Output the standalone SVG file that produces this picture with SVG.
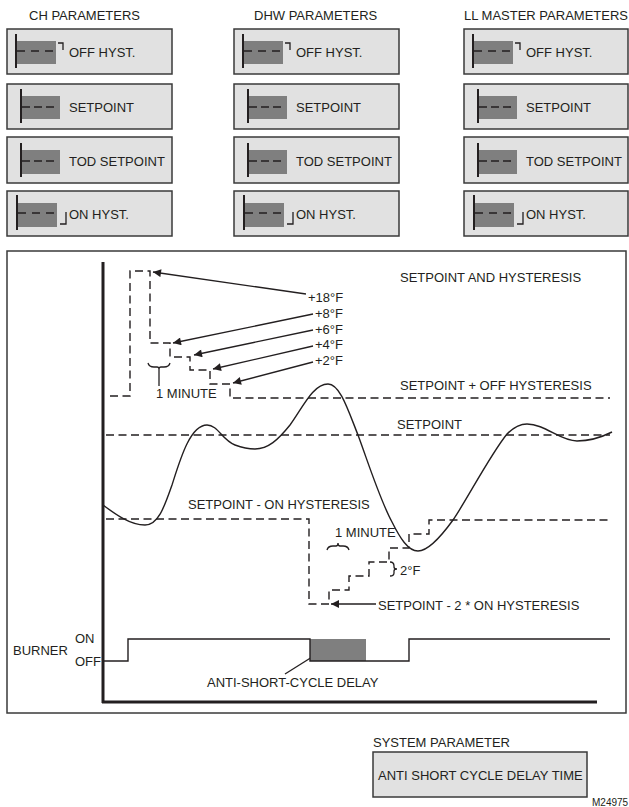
<svg xmlns="http://www.w3.org/2000/svg" width="629" height="807" viewBox="0 0 629 807">
<defs>
<style>
text{font-family:"Liberation Sans",Arial,sans-serif;font-size:13px;fill:#231f20}
.pbox{fill:#e1e1e1;stroke:#3a3a3a;stroke-width:1.5}
.disp{fill:#7f7f7f}
.vbar{stroke:#231f20;stroke-width:2}
.dsh{stroke:#231f20;stroke-width:1.6}
.brk{fill:none;stroke:#231f20;stroke-width:1.3}
.dl{fill:none;stroke:#231f20;stroke-width:1.4;stroke-dasharray:8,4.5}
.sl{fill:none;stroke:#231f20;stroke-width:1.4}
.ar{fill:none;stroke:#231f20;stroke-width:1.3;marker-end:url(#ah)}
.ax{stroke:#231f20;stroke-width:3}
</style>
<marker id="ah" viewBox="0 0 10 10" refX="10" refY="5" markerWidth="10" markerHeight="8" markerUnits="userSpaceOnUse" orient="auto">
<path d="M0,0 L10,5 L0,10 z" fill="#231f20"/>
</marker>
</defs>
<rect width="629" height="807" fill="#ffffff"/>

<!-- column headers -->
<g id="hdr-ch"><text x="29" y="20">CH PARAMETERS</text></g>
<g id="hdr-dhw"><text x="254" y="20">DHW PARAMETERS</text></g>
<g id="hdr-ll"><text x="464" y="20">LL MASTER PARAMETERS</text></g>

<!-- CH column -->
<g id="ch-off">
<rect class="pbox" x="7" y="29" width="165" height="45"/>
<rect class="disp" x="17" y="41" width="39" height="23"/>
<line class="vbar" x1="16" y1="34" x2="16" y2="68"/>
<line class="dsh" x1="17" y1="51" x2="53" y2="51" stroke-dasharray="8,6"/>
<path class="brk" d="M58,43 H63 V50"/>
<text x="69" y="57">OFF HYST.</text>
</g>
<g id="ch-sp">
<rect class="pbox" x="7" y="84" width="165" height="45"/>
<rect class="disp" x="21" y="96" width="39" height="23"/>
<line class="vbar" x1="21" y1="89" x2="21" y2="123"/>
<line class="dsh" x1="22" y1="107" x2="54" y2="107" stroke-dasharray="8,4"/>
<text x="69" y="112">SETPOINT</text>
</g>
<g id="ch-tod">
<rect class="pbox" x="7" y="137" width="165" height="46"/>
<rect class="disp" x="21" y="150" width="39" height="24"/>
<line class="vbar" x1="21" y1="143" x2="21" y2="177"/>
<line class="dsh" x1="22" y1="161" x2="54" y2="161" stroke-dasharray="8,4"/>
<text x="69" y="166">TOD SETPOINT</text>
</g>
<g id="ch-on">
<rect class="pbox" x="7" y="191" width="165" height="45"/>
<rect class="disp" x="18" y="203" width="39" height="24"/>
<line class="vbar" x1="17" y1="195" x2="17" y2="230"/>
<line class="dsh" x1="18" y1="213" x2="54" y2="213" stroke-dasharray="8,6"/>
<path class="brk" d="M60,224 H66 V212"/>
<text x="69" y="219">ON HYST.</text>
</g>

<!-- DHW column -->
<g id="dhw-off" transform="translate(227,0)">
<rect class="pbox" x="7" y="29" width="165" height="45"/>
<rect class="disp" x="17" y="41" width="39" height="23"/>
<line class="vbar" x1="16" y1="34" x2="16" y2="68"/>
<line class="dsh" x1="17" y1="51" x2="53" y2="51" stroke-dasharray="8,6"/>
<path class="brk" d="M58,43 H63 V50"/>
<text x="69" y="57">OFF HYST.</text>
</g>
<g id="dhw-sp" transform="translate(227,0)">
<rect class="pbox" x="7" y="84" width="165" height="45"/>
<rect class="disp" x="21" y="96" width="39" height="23"/>
<line class="vbar" x1="21" y1="89" x2="21" y2="123"/>
<line class="dsh" x1="22" y1="107" x2="54" y2="107" stroke-dasharray="8,4"/>
<text x="69" y="112">SETPOINT</text>
</g>
<g id="dhw-tod" transform="translate(227,0)">
<rect class="pbox" x="7" y="137" width="165" height="46"/>
<rect class="disp" x="21" y="150" width="39" height="24"/>
<line class="vbar" x1="21" y1="143" x2="21" y2="177"/>
<line class="dsh" x1="22" y1="161" x2="54" y2="161" stroke-dasharray="8,4"/>
<text x="69" y="166">TOD SETPOINT</text>
</g>
<g id="dhw-on" transform="translate(227,0)">
<rect class="pbox" x="7" y="191" width="165" height="45"/>
<rect class="disp" x="18" y="203" width="39" height="24"/>
<line class="vbar" x1="17" y1="195" x2="17" y2="230"/>
<line class="dsh" x1="18" y1="213" x2="54" y2="213" stroke-dasharray="8,6"/>
<path class="brk" d="M60,224 H66 V212"/>
<text x="69" y="219">ON HYST.</text>
</g>

<!-- LL master column -->
<g id="ll-off" transform="translate(457,0)">
<rect class="pbox" x="7" y="29" width="164" height="45"/>
<rect class="disp" x="17" y="41" width="39" height="23"/>
<line class="vbar" x1="16" y1="34" x2="16" y2="68"/>
<line class="dsh" x1="17" y1="51" x2="53" y2="51" stroke-dasharray="8,6"/>
<path class="brk" d="M58,43 H63 V50"/>
<text x="69" y="57">OFF HYST.</text>
</g>
<g id="ll-sp" transform="translate(457,0)">
<rect class="pbox" x="7" y="84" width="164" height="45"/>
<rect class="disp" x="21" y="96" width="39" height="23"/>
<line class="vbar" x1="21" y1="89" x2="21" y2="123"/>
<line class="dsh" x1="22" y1="107" x2="54" y2="107" stroke-dasharray="8,4"/>
<text x="69" y="112">SETPOINT</text>
</g>
<g id="ll-tod" transform="translate(457,0)">
<rect class="pbox" x="7" y="137" width="164" height="46"/>
<rect class="disp" x="21" y="150" width="39" height="24"/>
<line class="vbar" x1="21" y1="143" x2="21" y2="177"/>
<line class="dsh" x1="22" y1="161" x2="54" y2="161" stroke-dasharray="8,4"/>
<text x="69" y="166">TOD SETPOINT</text>
</g>
<g id="ll-on" transform="translate(457,0)">
<rect class="pbox" x="7" y="191" width="164" height="45"/>
<rect class="disp" x="18" y="203" width="39" height="24"/>
<line class="vbar" x1="17" y1="195" x2="17" y2="230"/>
<line class="dsh" x1="18" y1="213" x2="54" y2="213" stroke-dasharray="8,6"/>
<path class="brk" d="M60,224 H66 V212"/>
<text x="69" y="219">ON HYST.</text>
</g>

<!-- chart -->
<g id="chart">
<rect x="7" y="251" width="619" height="462" fill="#ffffff" stroke="#3a3a3a" stroke-width="1.5"/>
<line class="ax" x1="103" y1="262" x2="103" y2="703"/>
<line class="ax" x1="102" y1="702" x2="597" y2="702"/>
</g>

<g id="connectors">
<!-- dashed reference lines and staircases -->
<path class="dl" d="M110,396 H130 V271 H150 V343 H170 V357 H190 V370 H210 V384 H230 V398 H610"/>
<path class="dl" d="M106,435 H610"/>
<path class="dl" d="M106,519 H309 V604 H329 V590 H349 V576 H369 V562 H389 V548 H409 V534 H429 V520 H608"/>
<!-- temperature curve -->
<path class="sl" d="M103,505 C115,514 130,525 145,525 C158,525 164,508 172,485 C180,460 190,425 207,425 C218,425 222,440 235,445 C243,448 248,449 255,449 C268,449 278,440 290,425 C303,407 313,384 328,384 C340,384 348,410 358,435 C368,462 380,500 392,522 C400,538 408,551 418,551 C428,551 440,538 453,520 C465,503 490,455 507,434 C514,427 520,424 527,424 C545,424 560,441 577,441 C592,441 602,437 612,432"/>
<!-- arrows to steps -->
<line class="ar" x1="306" y1="294" x2="153" y2="272"/>
<line class="ar" x1="313" y1="314" x2="173" y2="343"/>
<line class="ar" x1="313" y1="330" x2="194" y2="355"/>
<line class="ar" x1="313" y1="346" x2="213" y2="369"/>
<line class="ar" x1="313" y1="362" x2="233" y2="383"/>
<line class="ar" x1="376" y1="604" x2="331" y2="604"/>
<line class="ar" x1="285" y1="674" x2="328" y2="647"/>
<!-- braces -->
<path class="brk" d="M148,363 Q149,367 154,367 L157,367 Q159,367 159,369 Q159,367 161,367 L164,367 Q169,367 170,363 M159,369 V386"/>
<path class="brk" d="M327,550 Q328,546 333,546 L336,546 Q338,546 338,543 Q338,546 340,546 L343,546 Q348,546 349,550"/>
<path class="brk" d="M390,562 Q394,562 394,566 L394,567 Q394,569 397,569 Q394,569 394,571 L394,573 Q394,576 390,576"/>
<!-- burner signal -->
<rect x="310" y="639" width="56" height="22" fill="#7f7f7f"/>
<path class="sl" d="M103,661 H128 V639 H310 V661 H409 V639 H610"/>
</g>

<g id="labels">
<text x="400" y="282">SETPOINT AND HYSTERESIS</text>
<text x="308" y="302">+18°F</text>
<text x="315" y="318">+8°F</text>
<text x="315" y="334">+6°F</text>
<text x="315" y="349">+4°F</text>
<text x="315" y="365">+2°F</text>
<text x="156" y="398">1 MINUTE</text>
<text x="400" y="390">SETPOINT + OFF HYSTERESIS</text>
<text x="397" y="429">SETPOINT</text>
<text x="188" y="509">SETPOINT - ON HYSTERESIS</text>
<text x="335" y="537">1 MINUTE</text>
<text x="400" y="575">2°F</text>
<text x="378" y="610">SETPOINT - 2 * ON HYSTERESIS</text>
<text x="13" y="655">BURNER</text>
<text x="75" y="643">ON</text>
<text x="75" y="666">OFF</text>
<text x="207" y="687">ANTI-SHORT-CYCLE DELAY</text>
</g>

<g id="sys-param">
<text x="373" y="747">SYSTEM PARAMETER</text>
<rect class="pbox" x="373" y="752" width="214" height="45"/>
<text x="378" y="780">ANTI SHORT CYCLE DELAY TIME</text>
</g>
<g id="fig-id"><text x="592" y="806" style="font-size:10px">M24975</text></g>
</svg>
